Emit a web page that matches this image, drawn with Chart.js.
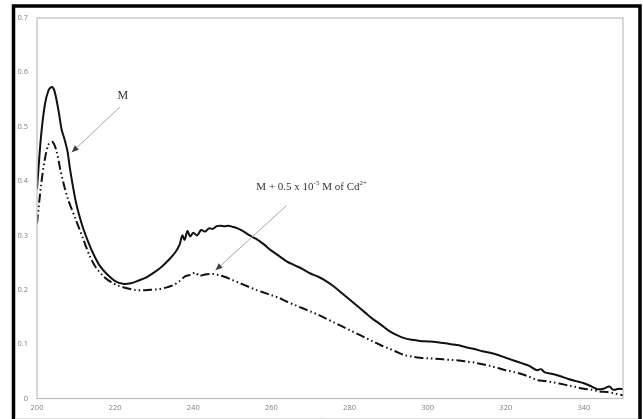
<!DOCTYPE html>
<html>
<head>
<meta charset="utf-8">
<script src="https://cdn.jsdelivr.net/npm/chart.js@4/dist/chart.umd.min.js"></script>
<style>
html,body{margin:0;padding:0;background:#fff;}
#wrap{position:relative;width:643px;height:419px;}
</style>
</head>
<body>
<div id="wrap"><canvas id="c" width="643" height="419"></canvas></div>
<script>
// Wavelength (nm) and absorbance for M
const waveM = [200,201,202,203,203.8,204.5,205.5,206.3,207,207.8,208.5,210,211.5,213,214.5,216,218,220,222,224,226,228,230,232,234,235.5,236.5,237.2,237.8,238.5,239.2,240,241,242,243,244,245,246,247,248,249,250,251,252.5,254,256,258,260,262,264,266,268,270,272,274,276,278,280,282,284,286,288,290,292,294,296,298,300,302,304,306,308,310,312,314,316,318,320,322,324,326,328,329,330,332,334,336,338,340,342,343.5,345,346.5,347.5,349,350];
const absM = [0.385,0.48,0.54,0.568,0.573,0.565,0.53,0.495,0.478,0.455,0.42,0.36,0.32,0.29,0.265,0.245,0.228,0.216,0.211,0.212,0.217,0.223,0.232,0.243,0.257,0.27,0.283,0.3,0.292,0.308,0.298,0.305,0.3,0.31,0.307,0.313,0.312,0.317,0.318,0.317,0.318,0.316,0.314,0.309,0.302,0.294,0.284,0.272,0.262,0.252,0.245,0.238,0.23,0.224,0.216,0.206,0.194,0.182,0.17,0.158,0.146,0.136,0.125,0.117,0.111,0.108,0.106,0.105,0.104,0.102,0.1,0.098,0.094,0.091,0.087,0.084,0.08,0.075,0.07,0.065,0.06,0.052,0.054,0.048,0.045,0.041,0.036,0.032,0.028,0.022,0.017,0.018,0.022,0.016,0.018,0.017];
// Wavelength (nm) and absorbance for M + Cd2+
const waveMCd = [200,201,202,203,204,205,206,207,208,210,212,213.5,215,217,219,221,223,225,227,229,231,233,235,236.5,238,239.5,240.5,241.5,243,245,246.5,248,250,252,254,256,258,260,262,264,266,268,270,272,274,276,278,280,282,284,286,288,290,292,294,296,298,300,302,304,306,308,310,312,314,316,318,320,322,324,326,328,330,332,334,336,338,340,342,344,346,348,350];
const absMCd = [0.322,0.39,0.44,0.468,0.472,0.455,0.42,0.39,0.365,0.328,0.29,0.262,0.242,0.225,0.214,0.207,0.203,0.2,0.199,0.2,0.201,0.204,0.209,0.216,0.225,0.228,0.232,0.226,0.228,0.229,0.227,0.224,0.218,0.212,0.206,0.2,0.195,0.19,0.185,0.178,0.172,0.166,0.16,0.154,0.147,0.14,0.133,0.126,0.119,0.112,0.105,0.098,0.092,0.086,0.08,0.077,0.075,0.074,0.073,0.072,0.071,0.07,0.068,0.066,0.063,0.06,0.056,0.052,0.049,0.045,0.04,0.034,0.032,0.03,0.027,0.024,0.021,0.018,0.016,0.013,0.012,0.009,0.006];
const xTicks = [200,220,240,260,280,300,320,340];
const yTicks = [0,0.1,0.2,0.3,0.4,0.5,0.6,0.7];

const toPts = (xs, ys) => xs.map((x, i) => ({x: x, y: ys[i]}));

const framePlugin = {
  id: 'frame',
  beforeDraw(chart) {
    const ctx = chart.ctx;
    ctx.save();
    ctx.fillStyle = '#fff';
    ctx.fillRect(0, 0, chart.width, chart.height);
    ctx.restore();
  },
  afterDraw(chart) {
    const ctx = chart.ctx, a = chart.chartArea;
    const xs = chart.scales.x, ys = chart.scales.y;
    ctx.save();
    // plot frame
    ctx.strokeStyle = '#bfbfbf';
    ctx.lineWidth = 1.2;
    ctx.strokeRect(a.left, a.top, a.right - a.left, a.bottom - a.top);
    // outer black frame
    ctx.strokeStyle = '#000';
    ctx.lineWidth = 3.5;
    ctx.beginPath();
    ctx.moveTo(13.5, 420);
    ctx.lineTo(13.5, 6);
    ctx.lineTo(640, 6);
    ctx.lineTo(640, 420);
    ctx.stroke();
    ctx.strokeStyle = '#d9d9d9';
    ctx.lineWidth = 1;
    ctx.beginPath();
    ctx.moveTo(15, 418.5);
    ctx.lineTo(638, 418.5);
    ctx.stroke();

    // annotations
    const P = (wx, wy) => [xs.getPixelForValue(wx), ys.getPixelForValue(wy)];
    const arrow = (from, to) => {
      const [x1, y1] = P(from[0], from[1]);
      const [x2, y2] = P(to[0], to[1]);
      ctx.strokeStyle = '#a6a6a6';
      ctx.fillStyle = '#404040';
      ctx.lineWidth = 1;
      ctx.beginPath();
      ctx.moveTo(x1, y1);
      ctx.lineTo(x2, y2);
      ctx.stroke();
      const ang = Math.atan2(y2 - y1, x2 - x1);
      const L = 7, W = 3;
      ctx.beginPath();
      ctx.moveTo(x2, y2);
      ctx.lineTo(x2 - L * Math.cos(ang) + W * Math.sin(ang), y2 - L * Math.sin(ang) - W * Math.cos(ang));
      ctx.lineTo(x2 - L * Math.cos(ang) - W * Math.sin(ang), y2 - L * Math.sin(ang) + W * Math.cos(ang));
      ctx.closePath();
      ctx.fill();
    };
    ctx.fillStyle = '#333';
    ctx.font = '12px "Liberation Serif", "Times New Roman", serif';
    ctx.textAlign = 'center';
    ctx.textBaseline = 'middle';
    const [mx, my] = P(222, 0.556);
    ctx.fillText('M', mx, my);
    arrow([221.2, 0.536], [208.9, 0.453]);

    // second label with superscripts
    const parts = [
      ['M + 0.5 x 10', false], ['-5', true], [' M of Cd', false], ['2+', true]
    ];
    const fN = '11px "Liberation Serif", "Times New Roman", serif';
    const fS = '7px "Liberation Serif", "Times New Roman", serif';
    let total = 0;
    parts.forEach(p => { ctx.font = p[1] ? fS : fN; total += ctx.measureText(p[0]).width; });
    const [cx, cy] = P(270.3, 0.389);
    let px = cx - total / 2;
    ctx.textAlign = 'left';
    ctx.fillStyle = '#333';
    parts.forEach(p => {
      ctx.font = p[1] ? fS : fN;
      ctx.fillText(p[0], px, p[1] ? cy - 3.5 : cy);
      px += ctx.measureText(p[0]).width;
    });
    arrow([263.9, 0.355], [245.7, 0.236]);
    ctx.restore();
  }
};

new Chart(document.getElementById('c'), {
  type: 'line',
  data: {
    datasets: [
      {
        label: 'M',
        data: toPts(waveM, absM),
        borderColor: '#111',
        borderWidth: 2,
        pointRadius: 0,
        tension: 0.3,
        fill: false
      },
      {
        label: 'M + 0.5 x 10-5 M of Cd2+',
        data: toPts(waveMCd, absMCd),
        borderColor: '#111',
        borderWidth: 2,
        borderDash: [9, 3, 1.5, 3, 1.5, 3],
        pointRadius: 0,
        tension: 0.3,
        fill: false
      }
    ]
  },
  options: {
    responsive: false,
    animation: false,
    layout: { padding: { left: 0, top: 18, right: 20, bottom: 0 } },
    plugins: { legend: { display: false }, tooltip: { enabled: false } },
    scales: {
      x: {
        type: 'linear',
        min: 200, max: 350,
        afterBuildTicks: s => { s.ticks = xTicks.map(v => ({value: v})); },
        afterFit: s => { s.height = 20.5; },
        grid: { display: false, drawTicks: false },
        border: { display: false },
        ticks: {
          color: '#7f7f7f',
          font: { family: '"Open Sans", "Liberation Sans", sans-serif', size: 7.5 },
          padding: 5,
          maxRotation: 0
        }
      },
      y: {
        type: 'linear',
        min: 0, max: 0.7,
        afterBuildTicks: s => { s.ticks = yTicks.map(v => ({value: v})); },
        afterFit: s => { s.width = 37; },
        grid: { display: false, drawTicks: false },
        border: { display: false },
        ticks: {
          color: '#7f7f7f',
          font: { family: '"Open Sans", "Liberation Sans", sans-serif', size: 7.5 },
          padding: 9,
          callback: v => (Math.round(v * 10) / 10).toString()
        }
      }
    }
  },
  plugins: [framePlugin]
});
</script>
</body>
</html>
